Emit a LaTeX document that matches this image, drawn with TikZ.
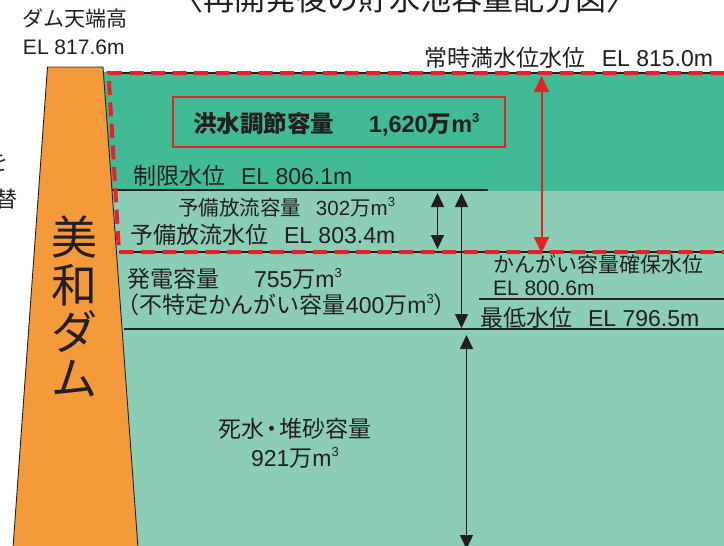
\documentclass[tikz,border=0pt]{standalone}
\usepackage{fontspec}
\setmainfont{Liberation Sans}
\newfontfamily\jpf{Noto Sans CJK JP}
\usetikzlibrary{arrows.meta}
\definecolor{txt}{HTML}{231F20}
\definecolor{dkgreen}{HTML}{41BB95}
\definecolor{ltgreen}{HTML}{8BCEB5}
\definecolor{damorange}{HTML}{F59A3A}
\definecolor{lvred}{HTML}{E82028}
\newcommand\J[1]{{\jpf #1}}
\newcommand\cube{\raisebox{0.42em}{\fontsize{13}{13}\selectfont 3}}
\newcommand\gap{\hspace{16pt}}
\tikzset{
  lbl/.style={inner sep=0pt, outer sep=0pt, text=txt, anchor=base west, font=\fontsize{23}{23}\selectfont},
  lblsm/.style={lbl, font=\fontsize{20.5}{20.5}\selectfont},
  lblmd/.style={lbl, font=\fontsize{21}{21}\selectfont},
  damchar/.style={inner sep=0pt, text=txt, font=\fontsize{46}{46}\selectfont\jpf},
  level/.style={draw=txt, line width=2.8pt},
  reddash/.style={draw=lvred, line width=4pt, dash pattern=on 14pt off 7.5pt},
  blkarrow/.style={draw=txt, line width=1.5pt, {Triangle[length=14pt,width=13pt]}-{Triangle[length=14pt,width=13pt]}},
  redarrow/.style={draw=lvred, line width=2pt, {Triangle[length=16pt,width=15pt]}-{Triangle[length=16pt,width=15pt]}}
}
\begin{document}
\begin{tikzpicture}[x=1pt,y=-1pt]
\useasboundingbox (0,0) rectangle (724,546);
\clip (0,0) rectangle (724,546);
% water
\fill[dkgreen] (103.4,72) -- (724,72) -- (724,191) -- (112,191) -- cycle;
\fill[ltgreen] (112,191) -- (724,191) -- (724,546) -- (138,546) -- cycle;
% dam
\draw[txt, line width=0.9pt, fill=damorange] (13,548) -- (47.5,67) -- (103,67) -- (138,548);
% dam name
\node[damchar] (d1) at (75,237) {美};
\node[damchar] (d2) at (75,285) {和};
\node[damchar] (d3) at (75,332) {ダ};
\node[damchar] (d4) at (75,379) {ム};
% levels
\coordinate (topL) at (108.5,73);
\coordinate (topR) at (724,73);
\coordinate (resL) at (119,252);
\coordinate (resR) at (724,252);
\draw[txt, line width=2.5pt] (topL) -- (topR);
\draw[txt, line width=2.5pt] (resL) -- (resR);
\coordinate (limL) at (112,190);
\coordinate (limR) at (488,190);
\draw[level] (limL) -- (limR);
\coordinate (irrL) at (479,299);
\coordinate (irrR) at (724,299);
\draw[level] (irrL) -- (irrR);
\coordinate (minL) at (124,329);
\coordinate (minR) at (724,329);
\draw[level] (minL) -- (minR);
\draw[reddash] (topR) -- (topL) -- (resL) -- (resR);
% flood box
\node[draw=lvred, line width=1.6pt, fill=dkgreen, minimum width=332pt, minimum height=50pt, inner sep=0pt] (box) at (339,122) {};
\node[lbl, font=\fontsize{23.5}{23.5}\selectfont\bfseries] (boxt) at (193,132) {\J{\bfseries 洪水調節容量}\hspace{35pt}1,620\J{\bfseries 万}m\cube};
% arrows
\coordinate (ra1) at (541.5,76);
\coordinate (ra2) at (541.5,253);
\draw[redarrow] (ra1) -- (ra2);
\coordinate (ba1) at (437.5,193);
\coordinate (ba2) at (437.5,249);
\draw[blkarrow] (ba1) -- (ba2);
\coordinate (bb1) at (461.5,193);
\coordinate (bb2) at (461.5,328);
\draw[blkarrow] (bb1) -- (bb2);
\coordinate (bc1) at (466.5,335);
\coordinate (bc2) at (466.5,549);
\draw[blkarrow] (bc1) -- (bc2);
% texts
\node[lbl, font=\fontsize{31}{31}\selectfont, anchor=base] (title) at (405,10) {\J{〈再開発後の貯水池容量配分図〉}};
\node[lblmd] (crest1) at (23,27) {\J{ダム天端高}};
\node[lblmd] (crest2) at (23,54) {EL 817.6m};
\node[lbl, font=\fontsize{22}{22}\selectfont\jpf, anchor=base] (cut1) at (-2,170) {を};
\node[lbl, font=\fontsize{22}{22}\selectfont\jpf, anchor=base] (cut2) at (6,207) {替};
\node[lbl, anchor=base east] (nwl) at (713,66) {\J{常時満水位水位}\gap EL 815.0m};
\node[lbl] (lim) at (133,184) {\J{制限水位}\gap EL 806.1m};
\node[lblsm] (resv) at (178,215) {\J{予備放流容量}\hspace{15pt}302\J{万}m\cube};
\node[lbl] (resl) at (130,243) {\J{予備放流水位}\gap EL 803.4m};
\node[lbl] (pow) at (127,287) {\J{発電容量}\hspace{35pt}755\J{万}m\cube};
\node[lbl] (pow2) at (116,313) {\J{（不特定かんがい容量}400\J{万}m\cube\J{）}};
\node[lblmd] (irr1) at (493,272) {\J{かんがい容量確保水位}};
\node[lblmd] (irr2) at (493,295.5) {EL 800.6m};
\node[lbl] (minlv) at (480,326) {\J{最低水位}\gap EL 796.5m};
\node[lbl, anchor=base] (dead1) at (295,437) {\J{死水\kern-4pt・\kern-4pt堆砂容量}};
\node[lbl, anchor=base] (dead2) at (295,466) {921\J{万}m\cube};
\end{tikzpicture}
\end{document}
